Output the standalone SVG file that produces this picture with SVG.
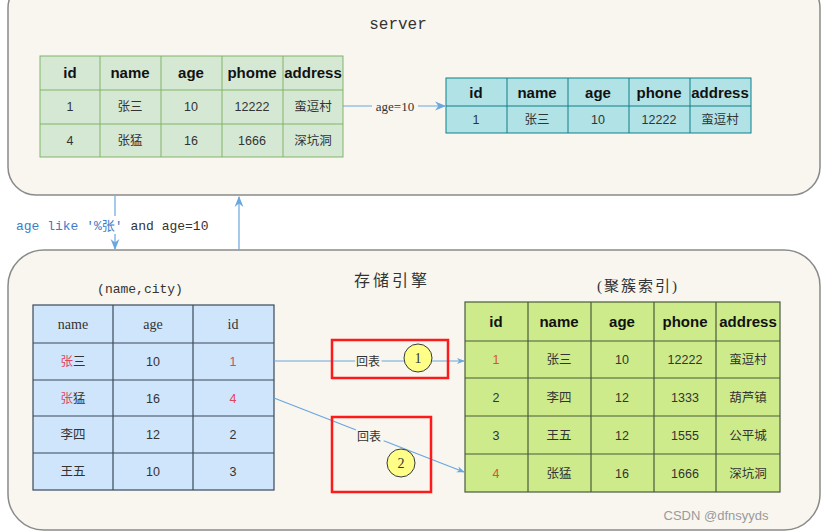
<svg xmlns="http://www.w3.org/2000/svg" width="834" height="532" viewBox="0 0 834 532">
<style>
.box{fill:#f8f6ef;stroke:#8a8a8a;stroke-width:1.5}
.g1{fill:#d5e8d4;stroke:#82b366;stroke-width:1}
.cy{fill:#b1e2e6;stroke:#0e8088;stroke-width:1}
.bl{fill:#cfe5fb;stroke:#3a4a5a;stroke-width:1.2}
.g2{fill:#cdeb8b;stroke:#4a5a3a;stroke-width:1.2}
.gl{stroke:#82b366;stroke-width:1}
.cl{stroke:#0e8088;stroke-width:1}
.bll{stroke:#3a4a5a;stroke-width:1.2}
.g2l{stroke:#4a5a3a;stroke-width:1.2}
.h{font-family:"Liberation Sans",Arial,sans-serif;font-weight:bold;font-size:15px;fill:#111;text-anchor:middle}
.t{font-family:"Liberation Sans","Noto Sans CJK SC",sans-serif;font-size:12.5px;fill:#333;text-anchor:middle}
.mono{font-family:"Liberation Mono","Noto Sans CJK SC",monospace;fill:#333}
.ser{font-family:"Liberation Serif","Noto Sans CJK SC",serif;fill:#333}
.red{fill:#e0455a}
.conn{stroke:#6aa6e0;fill:none;stroke-width:1.2}
.rb{fill:none;stroke:#ff1a1a;stroke-width:2.5}
.circ{fill:#ffff88;stroke:#36393d;stroke-width:1}
</style>
<defs>
<marker id="ah" viewBox="0 0 10 10" refX="9" refY="5" markerWidth="8" markerHeight="8" orient="auto" markerUnits="userSpaceOnUse">
<path d="M0,1 L10,5 L0,9 L3,5 Z" fill="#6aa6e0"/>
</marker>
<marker id="ahb" viewBox="0 0 10 10" refX="9" refY="5" markerWidth="11" markerHeight="11" orient="auto" markerUnits="userSpaceOnUse">
<path d="M0,1 L10,5 L0,9 L3,5 Z" fill="#6aa6e0"/>
</marker>
</defs>
<rect width="834" height="532" fill="#ffffff"/>

<g id="server">
<rect class="box" x="8" y="-20" width="812" height="215" rx="28"/>
<text class="mono" x="398" y="29" font-size="16" text-anchor="middle">server</text>
</g>

<g id="engine">
<rect class="box" x="8" y="250" width="812" height="280" rx="36"/>
<text class="ser" x="392" y="286" font-size="16" text-anchor="middle" letter-spacing="3">存储引擎</text>
<text class="mono" x="140" y="293" font-size="13" text-anchor="middle">(name,city)</text>
<text class="ser" x="638" y="291" font-size="15" text-anchor="middle" letter-spacing="2">(聚簇索引)</text>
</g>

<g id="server-table">
<rect class="g1" x="40" y="56" width="303" height="101"/>
<line class="gl" x1="40" y1="90" x2="343" y2="90"/>
<line class="gl" x1="40" y1="124" x2="343" y2="124"/>
<line class="gl" x1="100" y1="56" x2="100" y2="157"/>
<line class="gl" x1="161" y1="56" x2="161" y2="157"/>
<line class="gl" x1="222" y1="56" x2="222" y2="157"/>
<line class="gl" x1="283" y1="56" x2="283" y2="157"/>
<text class="h" x="70" y="78">id</text>
<text class="h" x="130" y="78">name</text>
<text class="h" x="191" y="78">age</text>
<text class="h" x="252" y="78">phome</text>
<text class="h" x="313" y="78">address</text>
<text class="t" x="70" y="111">1</text>
<text class="t" x="130" y="111">张三</text>
<text class="t" x="191" y="111">10</text>
<text class="t" x="252" y="111">12222</text>
<text class="t" x="313" y="111">蛮逗村</text>
<text class="t" x="70" y="145">4</text>
<text class="t" x="130" y="145">张猛</text>
<text class="t" x="191" y="145">16</text>
<text class="t" x="252" y="145">1666</text>
<text class="t" x="313" y="145">深坑洞</text>
</g>

<g id="result-table">
<rect class="cy" x="446" y="78" width="305" height="55"/>
<line class="cl" x1="446" y1="106" x2="751" y2="106"/>
<line class="cl" x1="507" y1="78" x2="507" y2="133"/>
<line class="cl" x1="568" y1="78" x2="568" y2="133"/>
<line class="cl" x1="629" y1="78" x2="629" y2="133"/>
<line class="cl" x1="690" y1="78" x2="690" y2="133"/>
<text class="h" x="476" y="98">id</text>
<text class="h" x="537" y="98">name</text>
<text class="h" x="598" y="98">age</text>
<text class="h" x="659" y="98">phone</text>
<text class="h" x="720" y="98">address</text>
<text class="t" x="476" y="124">1</text>
<text class="t" x="537" y="124">张三</text>
<text class="t" x="598" y="124">10</text>
<text class="t" x="659" y="124">12222</text>
<text class="t" x="720" y="124">蛮逗村</text>
</g>

<g id="index-table">
<rect class="bl" x="33" y="305" width="241" height="185"/>
<line class="bll" x1="33" y1="343" x2="274" y2="343"/>
<line class="bll" x1="33" y1="380" x2="274" y2="380"/>
<line class="bll" x1="33" y1="416" x2="274" y2="416"/>
<line class="bll" x1="33" y1="453" x2="274" y2="453"/>
<line class="bll" x1="113" y1="305" x2="113" y2="490"/>
<line class="bll" x1="193" y1="305" x2="193" y2="490"/>
<text class="ser" x="73" y="329" font-size="14" text-anchor="middle">name</text>
<text class="ser" x="153" y="329" font-size="14" text-anchor="middle">age</text>
<text class="ser" x="233" y="329" font-size="14" text-anchor="middle">id</text>
<text class="t" x="73" y="366"><tspan class="red">张</tspan>三</text>
<text class="t" x="153" y="366">10</text>
<text class="t red" x="233" y="366">1</text>
<text class="t" x="73" y="403"><tspan class="red">张</tspan>猛</text>
<text class="t" x="153" y="403">16</text>
<text class="t red" x="233" y="403">4</text>
<text class="t" x="73" y="439">李四</text>
<text class="t" x="153" y="439">12</text>
<text class="t" x="233" y="439">2</text>
<text class="t" x="73" y="476">王五</text>
<text class="t" x="153" y="476">10</text>
<text class="t" x="233" y="476">3</text>
</g>

<g id="cluster-table">
<rect class="g2" x="465" y="302" width="315" height="190"/>
<line class="g2l" x1="465" y1="341" x2="780" y2="341"/>
<line class="g2l" x1="465" y1="378" x2="780" y2="378"/>
<line class="g2l" x1="465" y1="416" x2="780" y2="416"/>
<line class="g2l" x1="465" y1="454" x2="780" y2="454"/>
<line class="g2l" x1="528" y1="302" x2="528" y2="492"/>
<line class="g2l" x1="591" y1="302" x2="591" y2="492"/>
<line class="g2l" x1="654" y1="302" x2="654" y2="492"/>
<line class="g2l" x1="716" y1="302" x2="716" y2="492"/>
<text class="h" x="496" y="327">id</text>
<text class="h" x="559" y="327">name</text>
<text class="h" x="622" y="327">age</text>
<text class="h" x="685" y="327">phone</text>
<text class="h" x="748" y="327">address</text>
<text class="t" x="496" y="364" style="fill:#d9542c">1</text>
<text class="t" x="559" y="364">张三</text>
<text class="t" x="622" y="364">10</text>
<text class="t" x="685" y="364">12222</text>
<text class="t" x="748" y="364">蛮逗村</text>
<text class="t" x="496" y="402">2</text>
<text class="t" x="559" y="402">李四</text>
<text class="t" x="622" y="402">12</text>
<text class="t" x="685" y="402">1333</text>
<text class="t" x="748" y="402">葫芦镇</text>
<text class="t" x="496" y="440">3</text>
<text class="t" x="559" y="440">王五</text>
<text class="t" x="622" y="440">12</text>
<text class="t" x="685" y="440">1555</text>
<text class="t" x="748" y="440">公平城</text>
<text class="t" x="496" y="478" style="fill:#d9542c">4</text>
<text class="t" x="559" y="478">张猛</text>
<text class="t" x="622" y="478">16</text>
<text class="t" x="685" y="478">1666</text>
<text class="t" x="748" y="478">深坑洞</text>
</g>

<g id="connectors">
<line class="conn" x1="343" y1="106" x2="445" y2="106" stroke-width="2" marker-end="url(#ahb)"/>
<rect x="372" y="98" width="46" height="16" fill="#f8f6ef"/>
<text class="ser" x="395" y="111" font-size="13" text-anchor="middle">age=10</text>

<line class="conn" x1="115" y1="196" x2="115" y2="249" stroke-width="1.5" marker-end="url(#ahb)"/>
<line class="conn" x1="239" y1="250" x2="239" y2="197" stroke-width="1.5" marker-end="url(#ahb)"/>
<rect x="14" y="216" width="200" height="18" fill="#ffffff"/>
<text class="mono" x="16" y="230" font-size="13"><tspan fill="#3d7cc9">age like '%张'</tspan> and age=10</text>

<line class="conn" x1="274" y1="361" x2="464" y2="361" marker-end="url(#ah)"/>
<line class="conn" x1="274" y1="398" x2="464" y2="472" marker-end="url(#ah)"/>
<text class="ser" x="368" y="366" font-size="12" text-anchor="middle" style="paint-order:stroke" stroke="#f8f6ef" stroke-width="4">回表</text>
<text class="ser" x="369" y="441" font-size="12" text-anchor="middle" style="paint-order:stroke" stroke="#f8f6ef" stroke-width="4">回表</text>
<circle class="circ" cx="418" cy="358" r="14"/>
<text class="ser" x="418" y="363" font-size="14" text-anchor="middle">1</text>
<circle class="circ" cx="401" cy="463" r="14"/>
<text class="ser" x="401" y="468" font-size="14" text-anchor="middle">2</text>
<rect class="rb" x="332" y="340" width="116" height="38"/>
<rect class="rb" x="332" y="417" width="99" height="75"/>
</g>

<text x="716" y="520" font-family="Liberation Sans, sans-serif" font-size="13" fill="#9a9a9a" text-anchor="middle">CSDN @dfnsyyds</text>
</svg>
